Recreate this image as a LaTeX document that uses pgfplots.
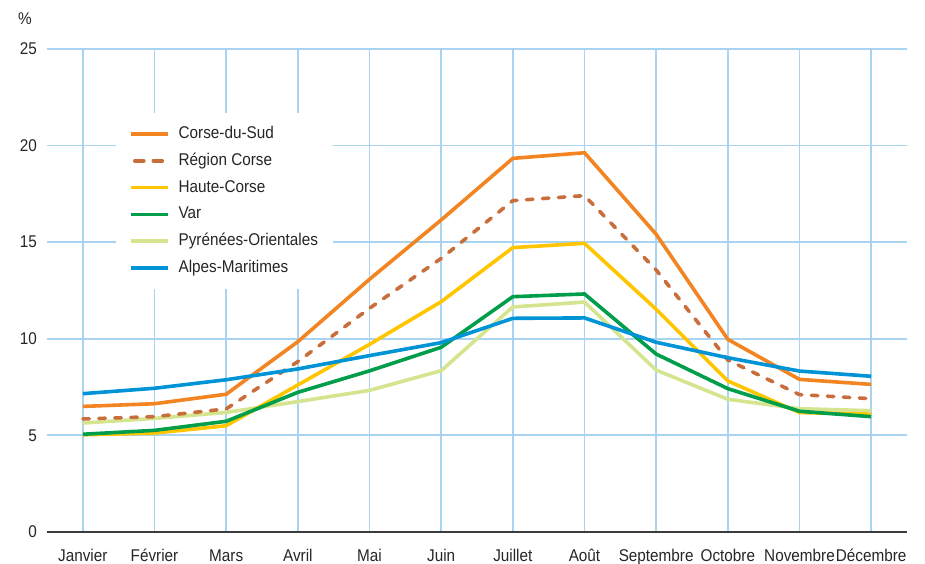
\documentclass[border=0pt]{standalone}
\usepackage{fontspec}
\setmainfont{Liberation Sans}[FakeStretch=0.9]
\usepackage{pgfplots}
\pgfplotsset{compat=1.18}
\definecolor{cCS}{RGB}{242,133,34}
\definecolor{cRC}{RGB}{200,110,58}
\definecolor{cHC}{RGB}{255,198,0}
\definecolor{cVar}{RGB}{0,158,75}
\definecolor{cPO}{RGB}{213,228,143}
\definecolor{cAM}{RGB}{0,148,215}
\definecolor{cGrid}{RGB}{168,212,242}
\definecolor{cAxis}{RGB}{60,60,60}
\begin{document}
\fontsize{17pt}{20pt}\selectfont
\begin{tikzpicture}
\path[use as bounding box] (0,0) rectangle (925pt,564pt);
\begin{axis}[
  at={(47pt,32pt)}, anchor=south west,
  scale only axis, width=860pt, height=483pt,
  xmin=-0.5, xmax=11.5, ymin=0, ymax=25,
  xtick={0,...,11},
  xticklabels={Janvier,Février,Mars,Avril,Mai,Juin,Juillet,Août,Septembre,Octobre,Novembre,Décembre},
  ytick={0,5,10,15,20,25},
  /pgf/number format/assume math mode=true,
  grid=major,
  major grid style={draw=cGrid, line width=1.8pt},
  axis lines*=left,
  y axis line style={draw=none},
  x axis line style={draw=cAxis, line width=1.8pt},
  tick style={draw=none},
  xticklabel style={anchor=base, inner sep=0pt, yshift=-29pt, text=black!85},
  yticklabel style={anchor=east, inner sep=0pt, xshift=-10pt, text=black!85},
  clip=false,
  legend image code/.code={\draw[#1] (0pt,0pt) -- (37pt,0pt);},
  legend cell align=left,
  legend style={at={(axis cs:0.46,21.69)}, anchor=north west, draw=none, fill=white,
    inner xsep=13pt, inner ysep=11pt, row sep=7pt,
    nodes={inner sep=2pt, text height=12.3pt, text depth=3.5pt, text=black!85},
    /tikz/every even column/.append style={column sep=0pt},
    /tikz/every odd column/.append style={column sep=7pt}},
]
\addlegendimage{cCS, line width=3.6pt}
\addlegendentry{Corse-du-Sud}
\addlegendimage{legend image code/.code={\draw[cRC, line width=3.6pt, line cap=round, dash pattern=on 9pt off 9.5pt] (4pt,0pt) -- (34pt,0pt);}}
\addlegendentry{Région Corse}
\addlegendimage{cHC, line width=3.6pt}
\addlegendentry{Haute-Corse}
\addlegendimage{cVar, line width=3.6pt}
\addlegendentry{Var}
\addlegendimage{cPO, line width=3.6pt}
\addlegendentry{Pyrénées-Orientales}
\addlegendimage{cAM, line width=3.6pt}
\addlegendentry{Alpes-Maritimes}

\addplot[cPO, line width=3.6pt, forget plot] coordinates {
(0,5.64) (1,5.88) (2,6.19) (3,6.75) (4,7.33) (5,8.35) (6,11.65) (7,11.9) (8,8.38) (9,6.87) (10,6.38) (11,6.28)};
\addplot[cHC, line width=3.6pt, forget plot] coordinates {
(0,5.03) (1,5.12) (2,5.5) (3,7.61) (4,9.71) (5,11.92) (6,14.72) (7,14.94) (8,11.53) (9,7.82) (10,6.18) (11,6.1)};
\addplot[cVar, line width=3.6pt, forget plot] coordinates {
(0,5.06) (1,5.26) (2,5.73) (3,7.23) (4,8.34) (5,9.56) (6,12.18) (7,12.32) (8,9.21) (9,7.42) (10,6.25) (11,5.97)};
\addplot[cRC, line width=3.6pt, line cap=round, dash pattern=on 6.5pt off 9.5pt, forget plot] coordinates {
(0,5.85) (1,5.97) (2,6.37) (3,8.82) (4,11.58) (5,14.16) (6,17.15) (7,17.41) (8,13.56) (9,8.9) (10,7.11) (11,6.9)};
\addplot[cCS, line width=3.6pt, forget plot] coordinates {
(0,6.5) (1,6.64) (2,7.13) (3,9.85) (4,13.08) (5,16.15) (6,19.34) (7,19.63) (8,15.41) (9,9.97) (10,7.9) (11,7.64)};
\addplot[cAM, line width=3.6pt, forget plot] coordinates {
(0,7.16) (1,7.44) (2,7.88) (3,8.44) (4,9.13) (5,9.8) (6,11.06) (7,11.08) (8,9.82) (9,9.02) (10,8.33) (11,8.06)};
\end{axis}
\node[anchor=base, inner sep=0pt, text=black!85] at (25pt,539pt) {\%};
\end{tikzpicture}
\end{document}
